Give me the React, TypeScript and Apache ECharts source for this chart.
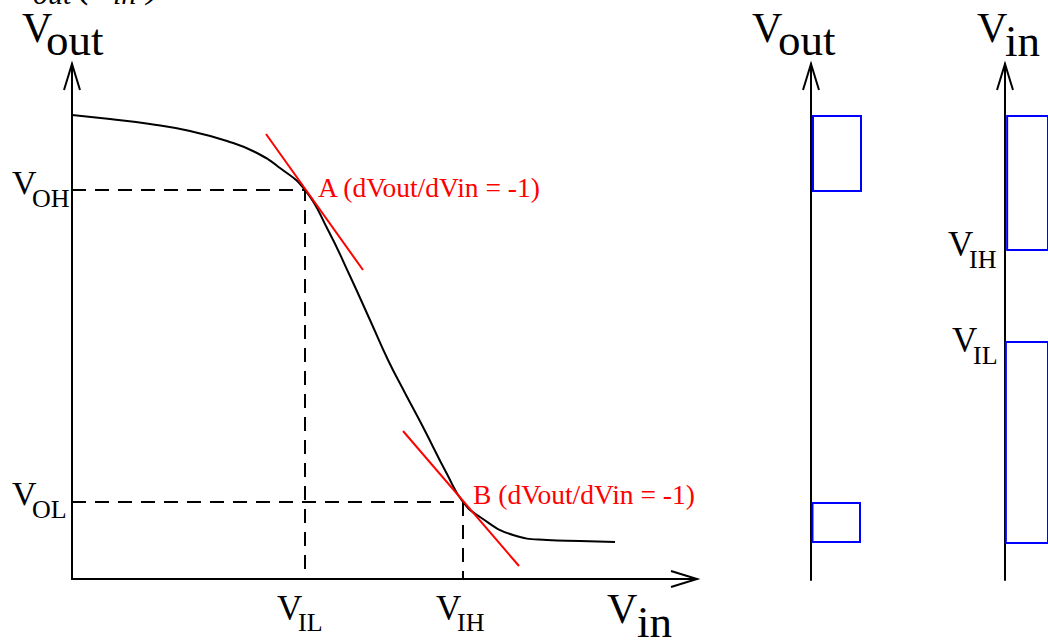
import React, { useEffect, useRef } from "react";
import * as echarts from "echarts";

// Transfer curve Vout(Vin)
const VIN_CURVE = [0, 0.38, 0.78, 1.18, 1.55, 1.83, 2.08, 2.33, 2.56, 2.78, 2.98, 3.16, 3.33, 3.51, 3.75, 3.91, 4.08, 4.41, 4.75, 5.08, 5.43];
const VOUT_CURVE = [4.64, 4.6, 4.55, 4.48, 4.38, 4.27, 4.11, 3.89, 3.49, 3.03, 2.59, 2.19, 1.86, 1.52, 1.05, 0.77, 0.62, 0.44, 0.39, 0.38, 0.37];

// Unity-gain points
const POINT_A = [2.33, 3.89]; // [VIL, VOH]
const POINT_B = [3.91, 0.77]; // [VIH, VOL]

// Tangent segments (slope -1 in the figure)
const TANGENT_A = [[1.94, 4.45], [2.91, 3.09]];
const TANGENT_B = [[3.31, 1.48], [4.47, 0.13]];

// Output / input ranges (vertical bars on the right)
const VOUT_HIGH = [3.89, 4.64];
const VOUT_LOW = [0.38, 0.77];
const VIN_HIGH = [3.3, 4.64];
const VIN_LOW = [0.37, 2.38];

const LABEL_A = "A (dVout/dVin = -1)";
const LABEL_B = "B (dVout/dVin = -1)";

const FONT = '"Liberation Serif", "Times New Roman", serif';

function txt(x: number, baseline: number, size: number, text: string, fill = "#000", extra: any = {}) {
  return {
    type: "text",
    x,
    y: baseline - 0.34 * size,
    silent: true,
    style: {
      text,
      fontFamily: FONT,
      fontSize: size,
      fill,
      align: "left",
      verticalAlign: "middle",
      ...extra,
    },
  };
}

function chevronUp(x: number, tip: number) {
  return {
    type: "polyline",
    silent: true,
    shape: { points: [[x - 8, tip + 26], [x, tip], [x + 8, tip + 26]] },
    style: { stroke: "#000", lineWidth: 2, fill: "none" },
  };
}

function chevronRight(tip: number, y: number) {
  return {
    type: "polyline",
    silent: true,
    shape: { points: [[tip - 26, y - 8], [tip, y], [tip - 26, y + 8]] },
    style: { stroke: "#000", lineWidth: 2, fill: "none" },
  };
}

const rectRender = (params: any, api: any) => {
  const p0 = api.coord([api.value(0), api.value(3)]);
  const p1 = api.coord([api.value(1), api.value(2)]);
  return {
    type: "rect",
    shape: { x: p0[0], y: p0[1], width: p1[0] - p0[0], height: p1[1] - p0[1] },
    style: { fill: "none", stroke: "#0000ff", lineWidth: 2 },
  };
};

export default function App() {
  const ref = useRef<HTMLDivElement>(null);

  useEffect(() => {
    if (!ref.current) return;
    const chart = echarts.init(ref.current, null, { renderer: "svg" });

    const axisBase = {
      type: "value",
      axisLine: { show: true, onZero: false, lineStyle: { color: "#000", width: 2 } },
      axisTick: { show: false },
      axisLabel: { show: false },
      splitLine: { show: false },
    };
    const hiddenX = { type: "value", min: 0, max: 1, show: false };

    const curve = VIN_CURVE.map((v, i) => [v, VOUT_CURVE[i]]);

    const option: any = {
      animation: false,
      backgroundColor: "#fff",
      grid: [
        { left: 72, top: 64, width: 625, height: 515 },
        { left: 811, top: 64, width: 50, height: 516 },
        { left: 1005, top: 64, width: 60, height: 516 },
      ],
      xAxis: [
        { ...axisBase, gridIndex: 0, min: 0, max: 6.25 },
        { ...hiddenX, gridIndex: 1 },
        { ...hiddenX, gridIndex: 2 },
      ],
      yAxis: [
        { ...axisBase, gridIndex: 0, min: 0, max: 5.15 },
        { ...axisBase, gridIndex: 1, min: 0, max: 5.16 },
        { ...axisBase, gridIndex: 2, min: 0, max: 5.16 },
      ],
      series: [
        {
          type: "line",
          data: [[0, POINT_A[1]], [POINT_A[0], POINT_A[1]], [POINT_A[0], 0]],
          symbol: "none",
          lineStyle: { color: "#000", width: 2, type: [14, 9] },
          z: 2,
        },
        {
          type: "line",
          data: [[0, POINT_B[1]], [POINT_B[0], POINT_B[1]], [POINT_B[0], 0]],
          symbol: "none",
          lineStyle: { color: "#000", width: 2, type: [14, 9] },
          z: 2,
        },
        {
          type: "line",
          data: curve,
          symbol: "none",
          smooth: 0.5,
          lineStyle: { color: "#000", width: 2 },
          z: 3,
        },
        {
          type: "line",
          data: TANGENT_A,
          symbol: "none",
          lineStyle: { color: "#ff0000", width: 2 },
          z: 4,
        },
        {
          type: "line",
          data: TANGENT_B,
          symbol: "none",
          lineStyle: { color: "#ff0000", width: 2 },
          z: 4,
        },
        {
          type: "custom",
          xAxisIndex: 1,
          yAxisIndex: 1,
          renderItem: rectRender,
          data: [
            [0.04, 1, VOUT_HIGH[0], VOUT_HIGH[1]],
            [0.03, 0.98, VOUT_LOW[0], VOUT_LOW[1]],
          ],
        },
        {
          type: "custom",
          xAxisIndex: 2,
          yAxisIndex: 2,
          renderItem: rectRender,
          data: [
            [0.05, 1, VIN_HIGH[0], VIN_HIGH[1]],
            [0.02, 1, VIN_LOW[0], VIN_LOW[1]],
          ],
        },
      ],
      graphic: [
        // arrowheads
        chevronUp(72, 64),
        chevronRight(697, 579),
        chevronUp(811, 64),
        chevronUp(1005, 64),
        // cut-off title fragments
        txt(33, 4, 30, "out", "#000", { fontStyle: "italic" }),
        txt(77, -4, 44, "(", "#000", { fontStyle: "italic" }),
        txt(113, 4, 30, "in", "#000", { fontStyle: "italic" }),
        txt(147, -4, 44, ")", "#000", { fontStyle: "italic" }),
        // axis titles
        txt(22, 42, 42, "V"),
        txt(46, 55, 45, "out"),
        txt(752, 42, 42, "V"),
        txt(778, 55, 45, "out"),
        txt(977, 42, 42, "V"),
        txt(1005, 56, 45, "in"),
        txt(607, 623, 42, "V"),
        txt(637, 637, 45, "in"),
        // level labels
        txt(12, 194, 34, "V"),
        txt(32, 207, 26, "OH"),
        txt(12, 505, 34, "V"),
        txt(32, 518, 26, "OL"),
        txt(277, 620, 35, "V"),
        txt(298, 631, 26, "IL"),
        txt(436, 620, 35, "V"),
        txt(457, 631, 26, "IH"),
        txt(948, 256, 35, "V"),
        txt(969, 268, 26, "IH"),
        txt(952, 352, 35, "V"),
        txt(973, 364, 26, "IL"),
        // point annotations
        txt(318, 197, 27.5, LABEL_A, "#ff0000"),
        txt(473, 504, 27.5, LABEL_B, "#ff0000"),
      ],
    };

    chart.setOption(option);
    return () => chart.dispose();
  }, []);

  return (
    <div
      ref={ref}
      style={{ position: "fixed", left: 0, top: 0, width: 1048, height: 641 }}
    />
  );
}
